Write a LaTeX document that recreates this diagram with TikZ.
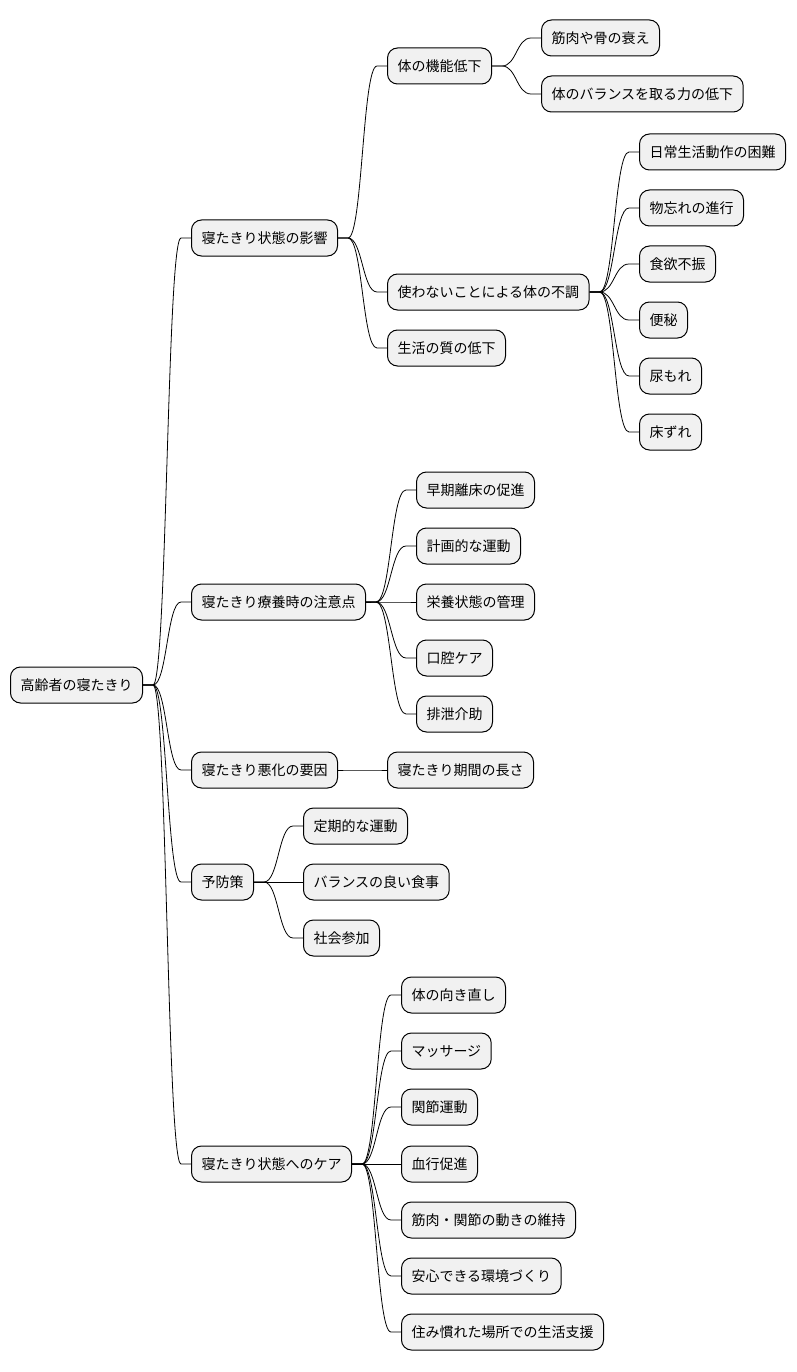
\documentclass[tikz,border=0pt]{standalone}
\usepackage{fontspec}
\setmainfont{Noto Sans CJK JP}
\usetikzlibrary{calc}
\definecolor{boxfill}{HTML}{F1F1F1}
\tikzset{
  mm/.style={draw=black, fill=boxfill, line width=1pt, rounded corners=10pt,
    anchor=west, inner xsep=10pt, inner ysep=0pt, minimum height=36pt,
    font=\fontsize{14pt}{16pt}\selectfont},
  link/.style={draw=black, line width=0.8pt}
}
\newcommand\conn[2]{%
  \draw[link] let \p1=($(#1.east)+(10pt,0)$), \p2=($(#2.west)+(-10pt,0)$) in
    (#1.east) -- (\p1) .. controls ({0.5*\x1+0.5*\x2},\y1) and ({0.5*\x1+0.5*\x2},\y2) .. (\p2) -- (#2.west);}
\begin{document}
\begin{tikzpicture}[x=1pt,y=-1pt]
\useasboundingbox (0,0) rectangle (796,1372);
\node[mm] (root) at (10,685) {高齢者の寝たきり};
% level 1
\node[mm] (a) at (191,238) {寝たきり状態の影響};
\node[mm] (b) at (191,602) {寝たきり療養時の注意点};
\node[mm] (c) at (191,770) {寝たきり悪化の要因};
\node[mm] (d) at (191,882) {予防策};
\node[mm] (e) at (191,1164) {寝たきり状態へのケア};
% under a
\node[mm] (a1) at (387,66) {体の機能低下};
\node[mm] (a2) at (387,292) {使わないことによる体の不調};
\node[mm] (a3) at (387,348) {生活の質の低下};
\node[mm] (a11) at (541,38) {筋肉や骨の衰え};
\node[mm] (a12) at (541,94) {体のバランスを取る力の低下};
\node[mm] (a21) at (639,152) {日常生活動作の困難};
\node[mm] (a22) at (639,208) {物忘れの進行};
\node[mm] (a23) at (639,264) {食欲不振};
\node[mm] (a24) at (639,320) {便秘};
\node[mm] (a25) at (639,376) {尿もれ};
\node[mm] (a26) at (639,432) {床ずれ};
% under b
\node[mm] (b1) at (416,490) {早期離床の促進};
\node[mm] (b2) at (416,546) {計画的な運動};
\node[mm] (b3) at (416,602) {栄養状態の管理};
\node[mm] (b4) at (416,658) {口腔ケア};
\node[mm] (b5) at (416,714) {排泄介助};
% under c
\node[mm] (c1) at (387,770) {寝たきり期間の長さ};
% under d
\node[mm] (d1) at (303,826) {定期的な運動};
\node[mm] (d2) at (303,882) {バランスの良い食事};
\node[mm] (d3) at (303,938) {社会参加};
% under e
\node[mm] (e1) at (401,995) {体の向き直し};
\node[mm] (e2) at (401,1051) {マッサージ};
\node[mm] (e3) at (401,1107) {関節運動};
\node[mm] (e4) at (401,1164) {血行促進};
\node[mm] (e5) at (401,1220) {筋肉・関節の動きの維持};
\node[mm] (e6) at (401,1276) {安心できる環境づくり};
\node[mm] (e7) at (401,1332) {住み慣れた場所での生活支援};
% connectors
\foreach \c in {a,b,c,d,e} {\conn{root}{\c}}
\foreach \c in {a1,a2,a3} {\conn{a}{\c}}
\foreach \c in {a11,a12} {\conn{a1}{\c}}
\foreach \c in {a21,a22,a23,a24,a25,a26} {\conn{a2}{\c}}
\foreach \c in {b1,b2,b3,b4,b5} {\conn{b}{\c}}
\conn{c}{c1}
\foreach \c in {d1,d2,d3} {\conn{d}{\c}}
\foreach \c in {e1,e2,e3,e4,e5,e6,e7} {\conn{e}{\c}}
\end{tikzpicture}
\end{document}
